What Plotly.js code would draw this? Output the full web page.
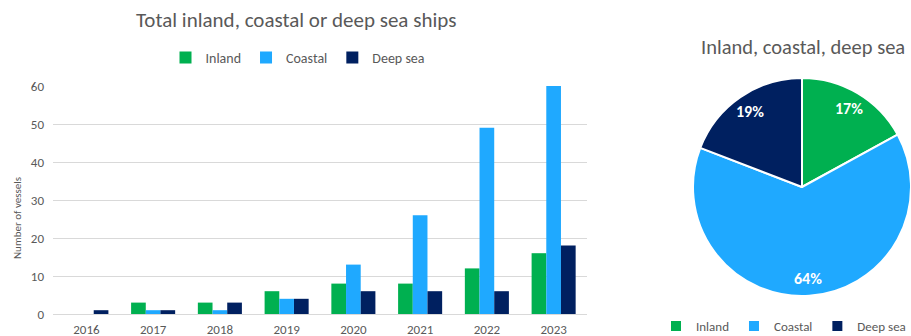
<!DOCTYPE html>
<html><head><meta charset="utf-8">
<script src="https://cdn.plot.ly/plotly-3.0.1.min.js"></script>
<style>html,body{margin:0;padding:0;background:#fff}#c{width:911px;height:336px}</style>
</head><body><div id="c"></div>
<script>
const years = ['2016','2017','2018','2019','2020','2021','2022','2023'];
const inland = [0,3,3,6,8,8,12,16];
const coastal = [0,1,1,4,13,26,49,60];
const deepSea = [1,1,3,4,6,6,6,18];
const pieLabels = ['Inland','Coastal','Deep sea'];
const pieValues = [16,60,18];
const colors = ['#00B050','#1FA9FF','#002060'];
const font = 'Carlito, Calibri, Lato, sans-serif';
const gray = '#595959';

const W = 911, H = 336;
const pieDomain = {x:[693/W, 1], y:[(H-297)/H, (H-77)/H]};

// pie percentage labels placed like Excel (near the rim, at slice mid-angle)
const total = pieValues.reduce((a,b)=>a+b,0);
const pcx = (pieDomain.x[0]+pieDomain.x[1])/2*W;
const pcy = H - (pieDomain.y[0]+pieDomain.y[1])/2*H;
const pr = Math.min((pieDomain.x[1]-pieDomain.x[0])*W, (pieDomain.y[1]-pieDomain.y[0])*H)/2;
let cum = 0;
const pieAnnots = pieValues.map(v=>{
  const mid = (cum + v/2)/total*2*Math.PI; cum += v;
  const d = pr*0.84;
  const px = pcx + d*Math.sin(mid), py = pcy - d*Math.cos(mid);
  return {text: Math.round(v/total*100)+'%', x:px/W, y:1-py/H, xref:'paper', yref:'paper',
          showarrow:false, xanchor:'center', yanchor:'middle',
          font:{size:16, color:'#fff', family:font, weight:'bold'}};
});

const traces = [
  {type:'bar', name:'Inland', x:years, y:inland, marker:{color:colors[0]}, hoverinfo:'none'},
  {type:'bar', name:'Coastal', x:years, y:coastal, marker:{color:colors[1]}, hoverinfo:'none'},
  {type:'bar', name:'Deep sea', x:years, y:deepSea, marker:{color:colors[2]}, hoverinfo:'none'},
  {type:'pie', labels:pieLabels, values:pieValues, sort:false, direction:'clockwise', rotation:0,
   marker:{colors:colors, line:{color:'#fff', width:2}},
   textinfo:'none', domain:pieDomain, legend:'legend2', hoverinfo:'none'}
];

const layout = {
  width:W, height:H, margin:{l:0,r:0,t:0,b:0,autoexpand:false},
  paper_bgcolor:'#fff', plot_bgcolor:'#fff',
  font:{family:font, color:gray, size:13},
  barmode:'group', bargap:0.34, bargroupgap:0,
  xaxis:{domain:[53/W, 587/W], type:'category', showgrid:false, ticks:'', zeroline:false,
         showline:true, linecolor:'#D9D9D9', tickfont:{size:13, color:gray}, ticklabelstandoff:3},
  yaxis:{domain:[(H-314)/H, (H-86)/H], range:[0,60], dtick:10, showgrid:true, gridcolor:'#D9D9D9',
         zeroline:false, showline:false, ticks:'', tickfont:{size:13, color:gray}, ticklabelstandoff:8},
  showlegend:true,
  legend:{orientation:'h', x:298/W, xanchor:'center', y:1-58/H, yanchor:'middle',
          font:{size:14, color:gray}, itemwidth:30, traceorder:'normal'},
  legend2:{orientation:'h', x:1, xanchor:'right', y:1-326/H, yanchor:'middle',
          font:{size:13, color:gray}, itemwidth:30},
  annotations:[
    {text:'Total inland, coastal or deep sea ships', x:296/W, y:1-20/H, xref:'paper', yref:'paper',
     showarrow:false, font:{size:21, color:gray}, xanchor:'center', yanchor:'middle'},
    {text:'Inland, coastal, deep sea', x:803/W, y:1-47/H, xref:'paper', yref:'paper',
     showarrow:false, font:{size:20.5, color:gray}, xanchor:'center', yanchor:'middle'},
    {text:'Number of vessels', x:17/W, y:1-218/H, xref:'paper', yref:'paper', textangle:-90,
     showarrow:false, font:{size:11, color:gray}, xanchor:'center', yanchor:'middle'}
  ].concat(pieAnnots)
};
Plotly.newPlot('c', traces, layout, {displayModeBar:false, staticPlot:true});
</script></body></html>
